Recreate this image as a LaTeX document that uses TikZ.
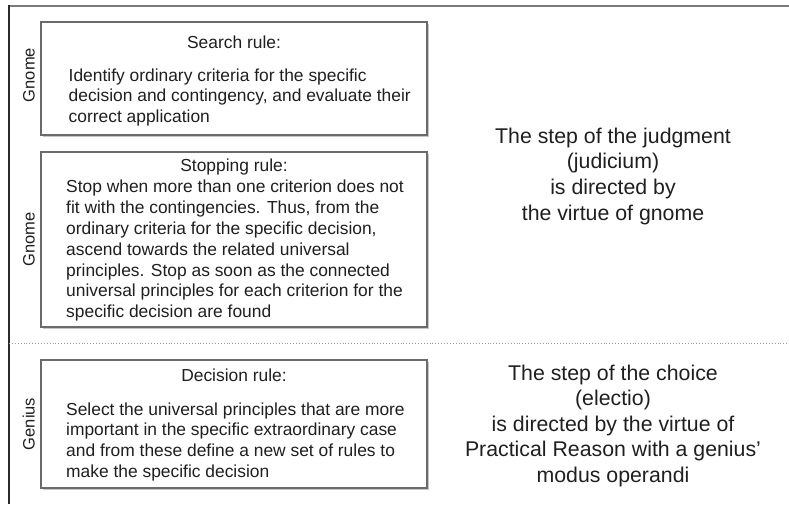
\documentclass[tikz,border=0pt]{standalone}
\usepackage{fontspec}
\setmainfont{Liberation Sans}
\usepackage{tikz}
\usetikzlibrary{positioning,shadows}
\definecolor{framegray}{HTML}{7A7A7A}
\definecolor{framedark}{HTML}{2B2B2B}
\definecolor{boxgray}{HTML}{6A6A6A}
\definecolor{inkdark}{HTML}{1F1F1F}
\definecolor{sepgray}{HTML}{9A9A9A}
\tikzset{
  rulebox/.style={draw=boxgray, fill=white, line width=1.1pt, minimum width=386pt,
    inner sep=0pt, general shadow={fill=black!22, shadow xshift=1.6pt, shadow yshift=-1.6pt}},
  ruletitle/.style={font=\fontsize{17.4}{20.8}\selectfont, text=inkdark, inner sep=0pt, anchor=base},
  rulebody/.style={font=\fontsize{17.4}{20.8}\selectfont, text=inkdark, inner sep=0pt,
    align=left, anchor=north west},
  sidelabel/.style={font=\fontsize{16.5}{19}\selectfont, text=inkdark, inner sep=0pt,
    rotate=90, anchor=base},
  steptext/.style={font=\fontsize{21.3}{25.6}\selectfont, text=inkdark, inner sep=0pt,
    align=center, anchor=north},
}
\begin{document}
\begin{tikzpicture}[x=1pt,y=-1pt]
  \useasboundingbox (0,0) rectangle (789,504);
  % frame and separator
  \draw[framegray, line width=1.5pt] (9,6) -- (789,6);
  \draw[framedark, line width=1.3pt] (9,5.3) -- (9,504);
  \draw[sepgray, line width=0.9pt, dotted] (9,343) -- (789,343);
  % rule boxes
  \node[rulebox, minimum height=113pt] (searchbox) at (234,78.5) {};
  \node[rulebox, minimum height=175pt] (stopbox) at (234,239.5) {};
  \node[rulebox, minimum height=128pt] (decisionbox) at (234,424) {};
  % side labels
  \node[sidelabel] (gnomeA) at (34.5,75) {Gnome};
  \node[sidelabel] (gnomeB) at (34.5,239.5) {Gnome};
  \node[sidelabel] (genius) at (34.5,424) {Genius};
  % search rule
  \node[ruletitle] (searchtitle) at (234,48) {Search rule:};
  \node[rulebody] (searchtext) at (68.5,68.3) {Identify ordinary criteria for the specific\\
    decision and contingency, and evaluate their\\correct application};
  % stopping rule
  \node[ruletitle] (stoptitle) at (234,171.5) {Stopping rule:};
  \node[rulebody] (stoptext) at (66,180) {Stop when more than one criterion does not\\
    fit with the contingencies. Thus, from the\\
    ordinary criteria for the specific decision,\\
    ascend towards the related universal\\
    principles. Stop as soon as the connected\\
    universal principles for each criterion for the\\
    specific decision are found};
  % decision rule
  \node[ruletitle] (decisiontitle) at (234,381.7) {Decision rule:};
  \node[rulebody] (decisiontext) at (66,402.3) {Select the universal principles that are more\\
    important in the specific extraordinary case\\
    and from these define a new set of rules to\\
    make the specific decision};
  % the two steps
  \node[steptext] (judgment) at (613,127.7) {The step of the judgment\\(judicium)\\
    is directed by\\the virtue of gnome};
  \node[steptext] (choice) at (613,364.4) {The step of the choice\\(electio)\\
    is directed by the virtue of\\Practical Reason with a genius'\\modus operandi};
\end{tikzpicture}
\end{document}
